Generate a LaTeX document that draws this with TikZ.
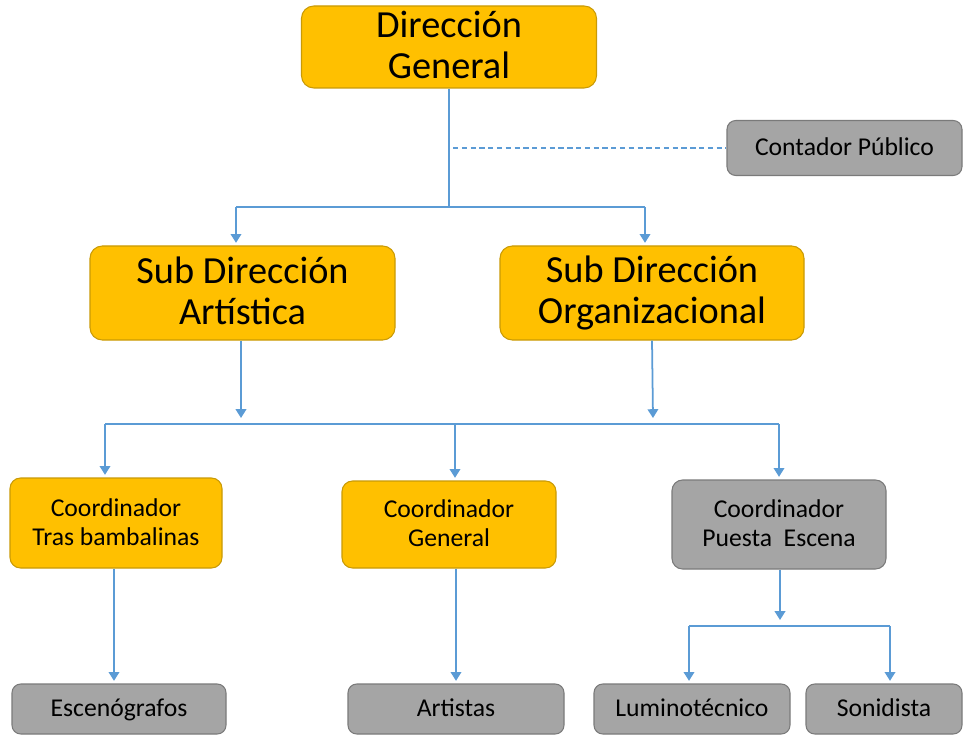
\documentclass[tikz,border=0pt]{standalone}
\usepackage{fontspec}
\setmainfont{Carlito}
\usetikzlibrary{positioning,arrows.meta}
\definecolor{gold}{HTML}{FFC000}
\definecolor{golddark}{HTML}{C99A06}
\definecolor{stone}{HTML}{A5A5A5}
\definecolor{stonedark}{HTML}{7A7A7A}
\definecolor{linkblue}{HTML}{5B9BD5}

\begin{document}
\begin{tikzpicture}[
  >={Triangle[length=5pt,width=6pt]},
  boxtext/.style 2 args={align=center, inner xsep=1mm, inner ysep=0pt,
                  execute at begin node={\rule{0pt}{#1}},
                  execute at end node={\rule[-#2]{0pt}{0pt}}},
  goldbox/.style={draw=golddark, fill=gold, line width=0.6pt},
  greybox/.style={draw=stonedark, fill=stone, line width=0.6pt,
                  rounded corners=5pt},
  lead/.style={goldbox, rounded corners=7pt, boxtext={0.93em}{0.13em},
               font=\fontsize{21.8}{23.2}\selectfont},
  pair/.style={boxtext={1em}{0.1em}, rounded corners=6pt,
               font=\fontsize{14.6}{16.4}\selectfont},
  single/.style={boxtext={0.8em}{0.2em},
                 font=\fontsize{14.6}{16.4}\selectfont},
  wire/.style={draw=linkblue, line width=1pt},
  link/.style={->, draw=linkblue, line width=1pt, shorten >=1.5pt},
  hint/.style={draw=linkblue, line width=0.8pt, dash pattern=on 3pt off 2pt},
]
\useasboundingbox (0,0) rectangle (19.26,-14.7);

% top level
\node[lead, minimum width=5.9cm, minimum height=1.64cm] (dg) at (8.98,-0.94)
  {Dirección\\ General};
\node[greybox, single, minimum width=4.7cm, minimum height=1.1cm] (cp)
  at (16.89,-2.96) {Contador Público};

% sub directions
\node[lead, minimum width=6.1cm, minimum height=1.88cm] (sda) at (4.85,-5.86)
  {Sub Dirección\\ Artística};
\node[lead, minimum width=6.08cm, minimum height=1.88cm] (sdo) at (13.04,-5.86)
  {Sub Dirección\\ Organizacional};

% coordinators
\node[goldbox, pair, minimum width=4.24cm, minimum height=1.8cm] (ctb)
  at (2.32,-10.46) {Coordinador\\ Tras bambalinas};
\node[goldbox, pair, minimum width=4.28cm, minimum height=1.74cm] (cg)
  at (8.98,-10.49) {Coordinador\\ General};
\node[greybox, pair, minimum width=4.28cm, minimum height=1.78cm] (cpe)
  at (15.58,-10.49) {Coordinador\\ Puesta~~Escena};

% staff
\node[greybox, single, minimum width=4.28cm, minimum height=1cm] (esc)
  at (2.38,-14.18) {Escenógrafos};
\node[greybox, single, minimum width=4.32cm, minimum height=1cm] (art)
  at (9.12,-14.18) {Artistas};
\node[greybox, single, minimum width=3.92cm, minimum height=1cm] (lum)
  at (13.84,-14.18) {Luminotécnico};
\node[greybox, single, minimum width=3.12cm, minimum height=1cm] (son)
  at (17.68,-14.18) {Sonidista};

% junctions
\coordinate (j1)  at (dg.south |- 0,-4.14);
\coordinate (j1l) at (4.72,-4.14);
\coordinate (j1r) at (12.9,-4.14);
\coordinate (jcp) at (9.06,-2.96);
\coordinate (j2l) at (2.1,-8.48);
\coordinate (j2m) at (9.1,-8.48);
\coordinate (j2r) at (15.58,-8.48);
\coordinate (sdaend) at (4.82,-8.36);
\coordinate (sdoend) at (13.06,-8.36);
\coordinate (j3)  at (15.6,-12.4);
\coordinate (j3l) at (13.78,-12.52);
\coordinate (j3r) at (17.8,-12.52);

\draw[wire] (dg.south) -- (j1);
\draw[wire] (j1l) -- (j1r);
\draw[link] (j1l) -- (j1l |- sda.north);
\draw[link] (j1r) -- (j1r |- sdo.north);
\draw[hint] (jcp) -- (cp.west);

\draw[link, shorten >=0pt] (sda.south -| sdaend) -- (sdaend);
\draw[link, shorten >=0pt] (sdo.south -| 13.04,0) -- (sdoend);
\draw[wire] (j2l) -- (j2r);
\draw[link] (j2l) -- (j2l |- ctb.north);
\draw[link] (j2m) -- (j2m |- cg.north);
\draw[link] (j2r) -- (j2r |- cpe.north);

\draw[link] (ctb.south -| 2.28,0) -- (2.28,0 |- esc.north);
\draw[link] (cg.south -| 9.12,0) -- (9.12,0 |- art.north);
\draw[link, shorten >=0pt] (cpe.south -| j3) -- (j3);
\draw[wire] (j3l) -- (j3r);
\draw[link] (j3l) -- (j3l |- lum.north);
\draw[link] (j3r) -- (j3r |- son.north);
\end{tikzpicture}
\end{document}
